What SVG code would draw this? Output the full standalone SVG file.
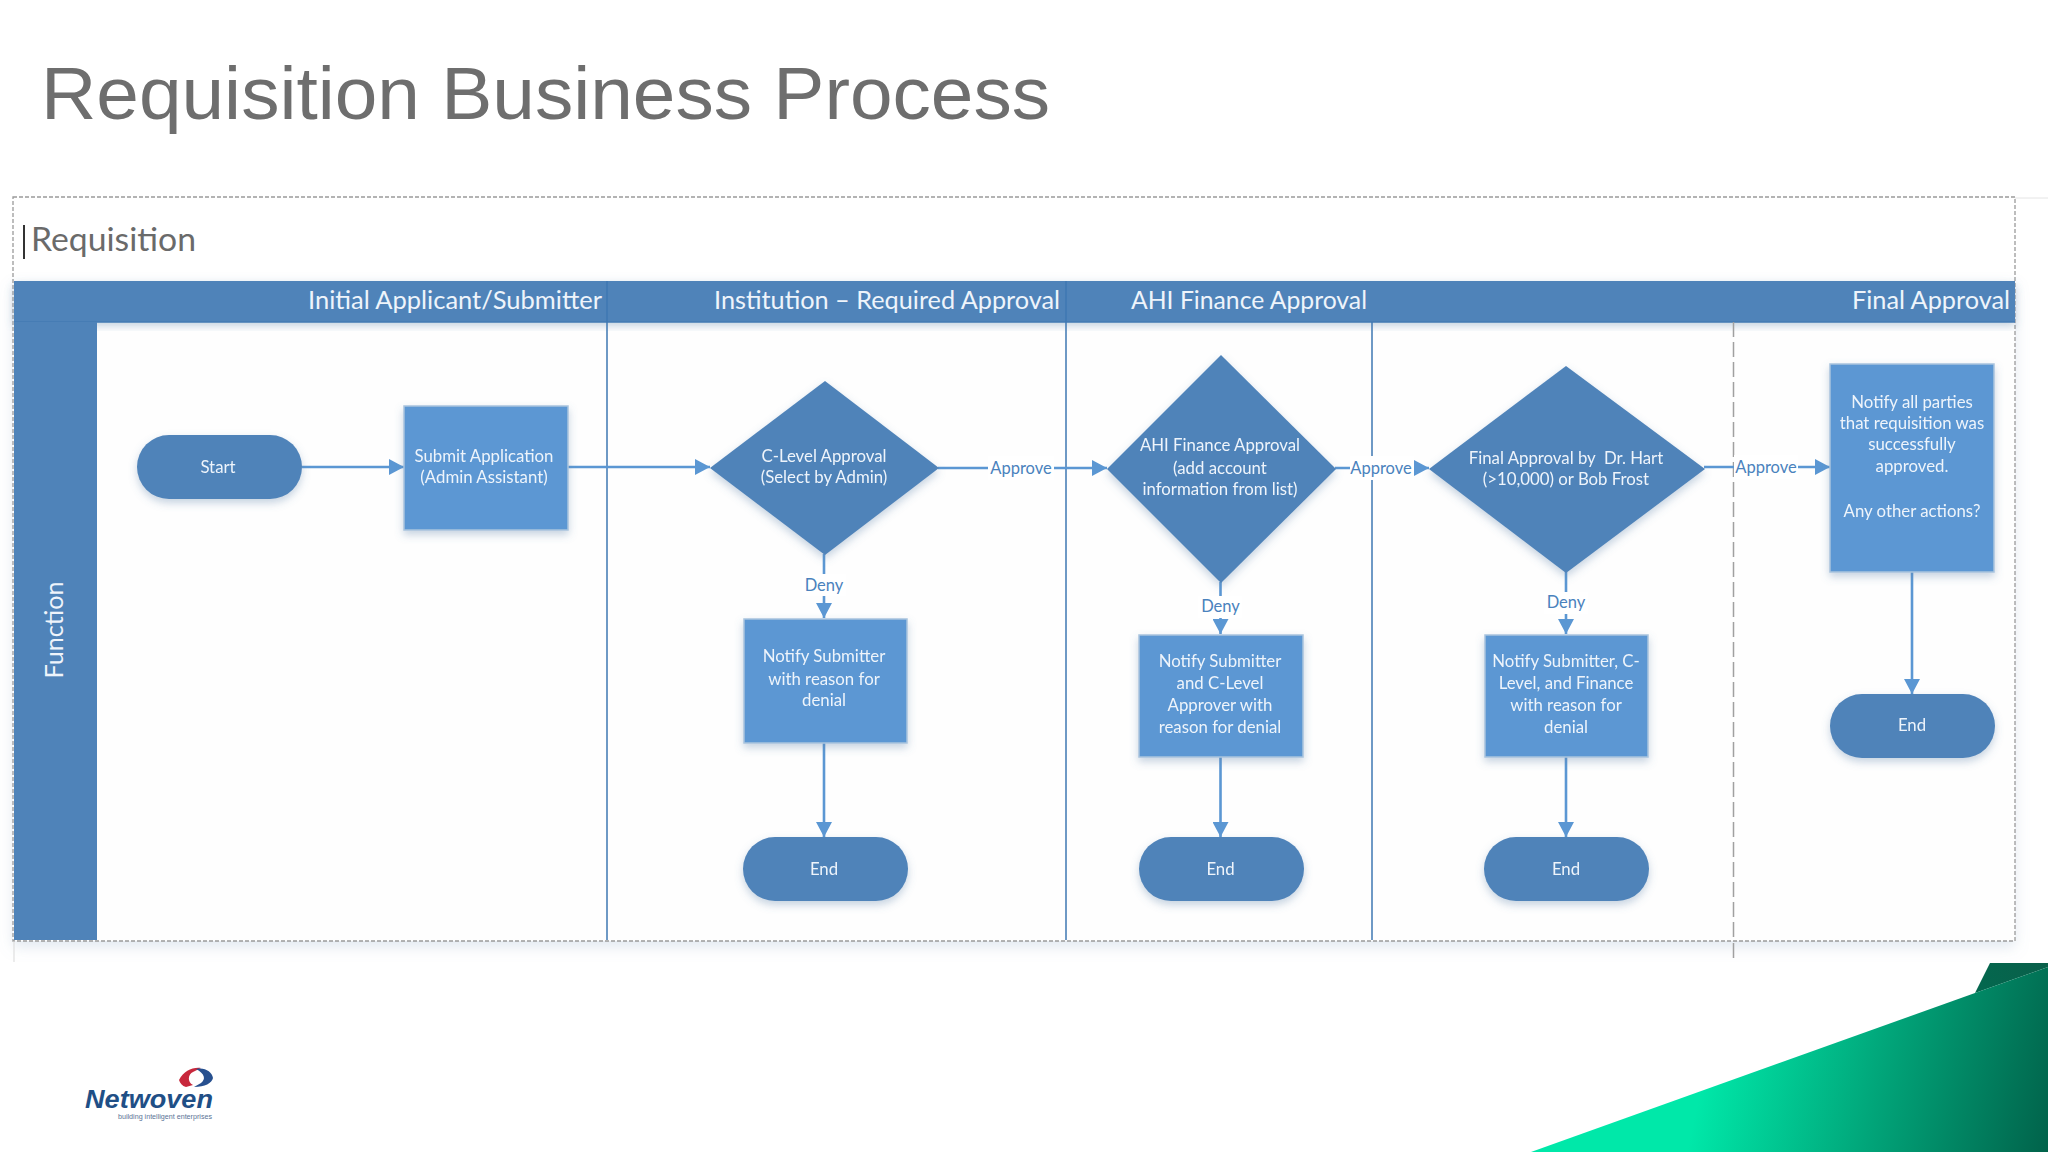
<svg xmlns="http://www.w3.org/2000/svg" width="2048" height="1152" viewBox="0 0 2048 1152">
<defs>
<style>
text{font-family:"Lato","Open Sans","Liberation Sans",sans-serif}
.n{font-size:16.800px;fill:#eef4fb;text-anchor:middle;white-space:pre}
.h{font-size:25px;fill:#eef4fb;text-anchor:end}
.l{font-size:16.500px;fill:#4a82bd;text-anchor:middle}
.dk{fill:#4f83b9}
.lt{fill:#5b97d3;stroke:#a9c4de;stroke-width:1.5}
.c{fill:none;stroke:#5b97d3;stroke-width:2.6}
.sep{stroke:#3f78b2;stroke-width:1.500;fill:none}
.dash{fill:none;stroke:#9a9a9a;stroke-width:1.3;stroke-dasharray:4 2}
.bg{fill:#fff}
</style>
<marker id="a" markerUnits="userSpaceOnUse" markerWidth="16" markerHeight="16" refX="15" refY="8" orient="auto"><path d="M0 0L15 8L0 16Z" fill="#5b97d3"/></marker>
<filter id="s" x="-15%" y="-15%" width="130%" height="135%"><feDropShadow dx="0" dy="4" stdDeviation="4" flood-color="#5b7fa8" flood-opacity=".35"/></filter>
<filter id="f" x="-2%" y="-2%" width="104%" height="106%"><feDropShadow dx="0" dy="6" stdDeviation="7" flood-color="#8aa4c4" flood-opacity=".25"/></filter>
<linearGradient id="g" gradientUnits="userSpaceOnUse" x1="1700" y1="1090" x2="2055" y2="1165"><stop offset="0" stop-color="#00e8a9"/><stop offset=".45" stop-color="#01a97c"/><stop offset="1" stop-color="#015f48"/></linearGradient>
<linearGradient id="g2" gradientUnits="userSpaceOnUse" x1="1985" y1="990" x2="2048" y2="960"><stop offset="0" stop-color="#04674e"/><stop offset="1" stop-color="#0a5f4a"/></linearGradient>
</defs>
<rect width="2048" height="1152" fill="#fff"/>
<text x="41" y="119" font-size="75" fill="#6e6e6e" style="font-family:'Liberation Sans',Arial,sans-serif" textLength="1009" lengthAdjust="spacingAndGlyphs">Requisition Business Process</text>

<g id="frame">
<rect x="13" y="281" width="2002" height="660" fill="#fefefe" filter="url(#f)"/>
<rect x="13" y="197" width="2002" height="744" class="dash"/>
<path d="M2015 198H2048" stroke="#e4e4e4" stroke-width="1" fill="none"/>
<path d="M14 941V962" stroke="#d9d9d9" stroke-width="1" fill="none"/>
<path d="M24 225V259" stroke="#333" stroke-width="2" fill="none"/>
<text x="31" y="251" font-size="33" fill="#6a6a6a" textLength="165" lengthAdjust="spacingAndGlyphs">Requisition</text>
<rect x="14" y="281" width="2001" height="41" class="dk" filter="url(#s)"/>
<path d="M14 322H2015" stroke="#437ab3" stroke-width="1.500" fill="none"/>
<rect x="14" y="322" width="83" height="618" class="dk"/>
<path d="M607 281V940M1066 281V940M1372 322V940" class="sep"/>
<path d="M1733.500 322V940M1733.500 943V962" fill="none" stroke="#a0a0a0" stroke-width="1.500" stroke-dasharray="15 5"/>
<text class="h" x="602" y="309" textLength="294" lengthAdjust="spacingAndGlyphs">Initial Applicant/Submitter</text>
<text class="h" x="1060" y="309" textLength="346" lengthAdjust="spacingAndGlyphs">Institution – Required Approval</text>
<text class="h" x="1367" y="309" textLength="236" lengthAdjust="spacingAndGlyphs">AHI Finance Approval</text>
<text class="h" x="2010" y="309" textLength="158" lengthAdjust="spacingAndGlyphs">Final Approval</text>
<text transform="translate(63 630) rotate(-90)" font-size="25" fill="#eef4fb" text-anchor="middle" textLength="97" lengthAdjust="spacingAndGlyphs">Function</text>
</g>

<g id="connectors">
<path class="c" d="M302 467H404" marker-end="url(#a)"/>
<path class="c" d="M568 467H710" marker-end="url(#a)"/>
<path class="c" d="M938 468H1107" marker-end="url(#a)"/>
<rect class="bg" x="988" y="456" width="66" height="24"/>
<text class="l" x="1021" y="474">Approve</text>
<path class="c" d="M1335 468H1429" marker-end="url(#a)"/>
<rect class="bg" x="1350" y="456" width="64" height="24"/>
<text class="l" x="1381" y="474">Approve</text>
<path class="c" d="M1704 467H1830" marker-end="url(#a)"/>
<rect class="bg" x="1734" y="455" width="64" height="24"/>
<text class="l" x="1766" y="473">Approve</text>
<path class="c" d="M824 554V618" marker-end="url(#a)"/>
<rect class="bg" x="802" y="574" width="44" height="22"/>
<text class="l" x="824" y="591">Deny</text>
<path class="c" d="M1220.500 582V634" marker-end="url(#a)"/>
<rect class="bg" x="1198" y="596" width="44" height="22"/>
<text class="l" x="1220.500" y="612">Deny</text>
<path class="c" d="M1566 572V634" marker-end="url(#a)"/>
<rect class="bg" x="1544" y="592" width="44" height="22"/>
<text class="l" x="1566" y="608">Deny</text>
<path class="c" d="M824 743V837" marker-end="url(#a)"/>
<path class="c" d="M1220.500 757V837" marker-end="url(#a)"/>
<path class="c" d="M1566 757V837" marker-end="url(#a)"/>
<path class="c" d="M1912 572V694" marker-end="url(#a)"/>
</g>

<g id="start" filter="url(#s)"><rect class="dk" x="137" y="435" width="165" height="64" rx="32"/><text class="n" x="218" y="473">Start</text></g>
<g id="submit" filter="url(#s)"><rect class="lt" x="404" y="406" width="164" height="124"/><text class="n" x="484" y="462">Submit Application</text><text class="n" x="484" y="483">(Admin Assistant)</text></g>
<g id="clevel" filter="url(#s)"><path class="dk" d="M825 381L939 468L825 555L710 468Z"/><text class="n" x="824" y="462">C-Level Approval</text><text class="n" x="824" y="483">(Select by Admin)</text></g>
<g id="notify1" filter="url(#s)"><rect class="lt" x="744" y="619" width="163" height="124"/><text class="n" x="824" y="662">Notify Submitter</text><text class="n" x="824" y="685">with reason for</text><text class="n" x="824" y="706">denial</text></g>
<g id="end1" filter="url(#s)"><rect class="dk" x="743" y="837" width="165" height="64" rx="32"/><text class="n" x="824" y="875">End</text></g>
<g id="ahi" filter="url(#s)"><path class="dk" d="M1221 355L1336 469L1221 583L1107 469Z"/><text class="n" x="1220" y="451">AHI Finance Approval</text><text class="n" x="1220" y="474">(add account</text><text class="n" x="1220" y="495">information from list)</text></g>
<g id="notify2" filter="url(#s)"><rect class="lt" x="1139" y="635" width="164" height="122"/><text class="n" x="1220" y="667">Notify Submitter</text><text class="n" x="1220" y="689">and C-Level</text><text class="n" x="1220" y="711">Approver with</text><text class="n" x="1220" y="733">reason for denial</text></g>
<g id="end2" filter="url(#s)"><rect class="dk" x="1139" y="837" width="165" height="64" rx="32"/><text class="n" x="1220.500" y="875">End</text></g>
<g id="final" filter="url(#s)"><path class="dk" d="M1566 366L1705 469L1566 573L1429 469Z"/><text class="n" x="1566" y="464">Final Approval by  Dr. Hart</text><text class="n" x="1566" y="485">(&gt;10,000) or Bob Frost</text></g>
<g id="notify3" filter="url(#s)"><rect class="lt" x="1485" y="635" width="163" height="122"/><text class="n" x="1566" y="667">Notify Submitter, C-</text><text class="n" x="1566" y="689">Level, and Finance</text><text class="n" x="1566" y="711">with reason for</text><text class="n" x="1566" y="733">denial</text></g>
<g id="end3" filter="url(#s)"><rect class="dk" x="1484" y="837" width="165" height="64" rx="32"/><text class="n" x="1566" y="875">End</text></g>
<g id="notifyall" filter="url(#s)"><rect class="lt" x="1830" y="364" width="164" height="208"/><text class="n" x="1912" y="408">Notify all parties</text><text class="n" x="1912" y="429">that requisition was</text><text class="n" x="1912" y="450">successfully</text><text class="n" x="1912" y="472">approved.</text><text class="n" x="1912" y="517">Any other actions?</text></g>
<g id="end4" filter="url(#s)"><rect class="dk" x="1830" y="694" width="165" height="64" rx="32"/><text class="n" x="1912" y="731">End</text></g>

<g id="decor">
<path d="M1990 963H2048V967L1975 993Z" fill="url(#g2)"/>
<path d="M1531 1152L1975 993L2048 967V1152Z" fill="url(#g)"/>
</g>
<g id="logo">
<path d="M179 1080C184 1071 192 1067 201 1068L193 1072C188 1074 187 1082 193 1085L186 1087C182 1086 180 1083 179 1080Z" fill="#c8283c"/>
<path d="M196 1069C205 1067 212 1072 213 1078C212 1083 205 1087 194 1087L201 1083C206 1079 205 1074 196 1069Z" fill="#27508f"/>
<text x="85" y="1108" font-size="25" font-weight="700" font-style="italic" fill="#1f4f86" style="font-family:'Liberation Sans',sans-serif" textLength="128" lengthAdjust="spacingAndGlyphs">Netwoven</text>
<text x="118" y="1119" font-size="6.500" fill="#5a7396" style="font-family:'Liberation Sans',sans-serif" textLength="94" lengthAdjust="spacingAndGlyphs">building intelligent enterprises</text>
</g>
</svg>
